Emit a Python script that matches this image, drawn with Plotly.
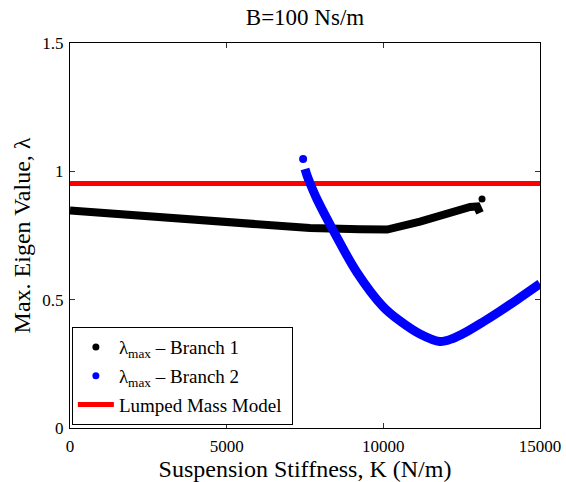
import plotly.graph_objects as go

# ---- data ----
k_branch1 = [0, 1280, 2870, 4470, 6060, 7660, 9250, 10120, 11170, 12220, 12770, 12990, 13085]
lam_branch1 = [0.847, 0.836, 0.819, 0.801, 0.788, 0.779, 0.774, 0.773, 0.804, 0.843, 0.861, 0.863, 0.838]
k_branch1_iso = [13150]
lam_branch1_iso = [0.892]

k_branch2 = [7500, 7560, 7660, 7880, 8390, 9160, 9990, 10530, 11170, 11800, 12220, 12670, 13180, 13720, 14270, 15000]
lam_branch2 = [1.009, 0.986, 0.954, 0.892, 0.772, 0.606, 0.473, 0.417, 0.366, 0.337, 0.349, 0.376, 0.413, 0.455, 0.500, 0.562]
k_branch2_iso = [7440]
lam_branch2_iso = [1.048]

k_lumped = [0, 15000]
lam_lumped = [0.953, 0.953]

x_ticks = [0, 5000, 10000, 15000]
x_ticktext = ["0", "5000", "10000", "15000"]
y_ticks = [0, 0.5, 1, 1.5]
y_ticktext = ["0", "0.5", "1", "1.5"]

FONT = "Liberation Serif"
BLACK = "#000000"
BLUE = "#0000ff"
RED = "#ff0000"

fig = go.Figure()

# Lumped mass model
fig.add_trace(go.Scatter(x=k_lumped, y=lam_lumped, mode="lines",
                         line=dict(color=RED, width=5), showlegend=False))
# Branch 1
fig.add_trace(go.Scatter(x=k_branch1, y=lam_branch1, mode="lines",
                         line=dict(color=BLACK, width=8), showlegend=False, cliponaxis=False))
fig.add_trace(go.Scatter(x=k_branch1_iso, y=lam_branch1_iso, mode="markers",
                         marker=dict(color=BLACK, size=7), showlegend=False, cliponaxis=False))
# Branch 2
fig.add_trace(go.Scatter(x=k_branch2, y=lam_branch2, mode="lines",
                         line=dict(color=BLUE, width=9, shape="spline", smoothing=1.0),
                         showlegend=False, cliponaxis=False))
fig.add_trace(go.Scatter(x=k_branch2_iso, y=lam_branch2_iso, mode="markers",
                         marker=dict(color=BLUE, size=8), showlegend=False, cliponaxis=False))

# legend entries
fig.add_trace(go.Scatter(x=[None], y=[None], mode="markers", marker=dict(color=BLACK, size=7),
                         name="λ<sub>max</sub> – Branch 1", legendgroup="a"))
fig.add_trace(go.Scatter(x=[None], y=[None], mode="markers", marker=dict(color=BLUE, size=7),
                         name="λ<sub>max</sub> – Branch 2", legendgroup="b"))
fig.add_trace(go.Scatter(x=[None], y=[None], mode="lines", line=dict(color=RED, width=5),
                         name="Lumped Mass Model ", legendgroup="c"))

axis_common = dict(showline=True, linecolor=BLACK, linewidth=1, mirror="ticks",
                   ticks="inside", ticklen=5, tickcolor="#333333", showgrid=False,
                   zeroline=False, automargin=False)

fig.update_xaxes(range=[0, 15000], tickvals=x_ticks, ticktext=x_ticktext,
                 tickfont=dict(family=FONT, size=17, color=BLACK), ticklabelstandoff=3,
                 title=dict(text="Suspension Stiffness, K (N/m)",
                            font=dict(family=FONT, size=24, color=BLACK), standoff=0),
                 **axis_common)
fig.update_yaxes(range=[0, 1.5], tickvals=y_ticks, ticktext=y_ticktext,
                 tickfont=dict(family=FONT, size=17, color=BLACK), ticklabelstandoff=2,
                 title=dict(text="Max. Eigen Value, λ",
                            font=dict(family=FONT, size=24, color=BLACK), standoff=4),
                 **axis_common)

fig.update_layout(
    width=566, height=482,
    margin=dict(l=70, r=26, t=43, b=54),
    paper_bgcolor="white", plot_bgcolor="white",
    font=dict(family=FONT, color=BLACK),
    title=dict(text="B=100 Ns/m", x=0.5, xref="paper", y=1 - 17 / 482, yanchor="middle",
               xanchor="center", font=dict(family=FONT, size=23, color=BLACK)),
    legend=dict(x=0.004, y=0.262, xanchor="left", yanchor="top",
                bgcolor="white", bordercolor=BLACK, borderwidth=1,
                font=dict(family=FONT, size=19, color=BLACK),
                itemwidth=36, traceorder="grouped", tracegroupgap=1),
)

fig.write_html("out.html")
